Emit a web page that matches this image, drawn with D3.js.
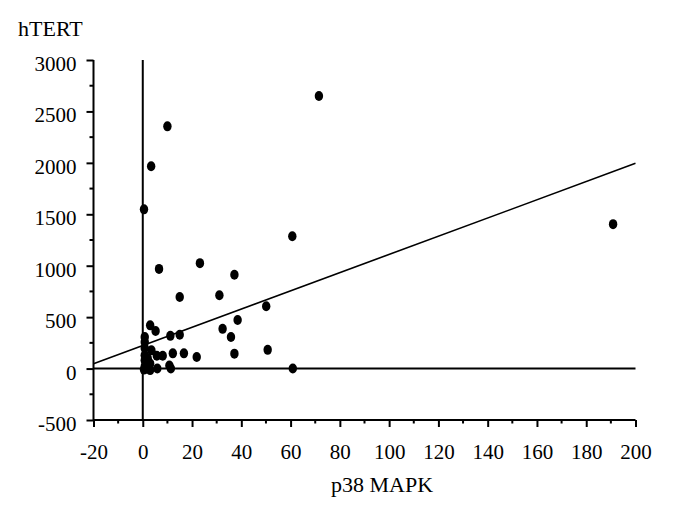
<!DOCTYPE html>
<html>
<head>
<meta charset="utf-8">
<script src="https://cdn.jsdelivr.net/npm/d3@7"></script>
<style>
  html, body { margin: 0; padding: 0; background: #fff; }
  svg text { font-family: "Liberation Serif", "Times New Roman", serif; fill: #000; }
</style>
</head>
<body>
<svg id="chart" width="674" height="505"></svg>
<script>
// ---- data ----
const p38 = [71.5, 10, 3.4, 0.5, 190.9, 60.7, 23.2, 6.6, 37.2, 15, 31.1, 50.1, 38.5, 32.4, 35.8, 21.9, 37.2, 50.7, 60.9,
             3, 5.2, 11.2, 15, 0.8, 0.8, 0.8, 0.8, 0.8, 0.8, 0.5, 3.5, 5.7, 8.1, 12.2, 16.7, 10.8, 11.4, 5.9, 3, 2, 3, 2.2];
const hTERT = [2650, 2355, 1967, 1548, 1404, 1286, 1025, 969, 912, 695, 713, 606, 472, 386, 307, 112, 145, 182, 0,
               420, 365, 318, 328, 307, 258, 200, 130, 80, 20, -10, 177, 125, 125, 148, 148, 30, 0, 0, -15, 100, 50, 10];
const xTicks = [-20, 0, 20, 40, 60, 80, 100, 120, 140, 160, 180, 200];
const yTicks = [-500, 0, 500, 1000, 1500, 2000, 2500, 3000];
const fitIntercept = 225;
const fitSlope = 8.85;
const xTitle = "p38 MAPK";
const yTitle = "hTERT";

// ---- layout ----
const svg = d3.select("#chart");
const x = d3.scaleLinear().domain([-20, 200]).range([93.5, 635.5]);
const y = d3.scaleLinear().domain([-500, 3000]).range([420, 60]);

const xMinor = d3.range(-10, 200, 20);
const yMinor = d3.range(-250, 3000, 500);
const fmt = d => String(d);

// x axis
const gx = svg.append("g").attr("transform", `translate(0,${y(-500)})`)
  .call(d3.axisBottom(x).tickValues(xTicks).tickSize(7).tickPadding(17).tickFormat(fmt));
gx.selectAll(".tick text").attr("font-size", 21).attr("font-family", "Liberation Serif");
gx.append("g").selectAll("line").data(xMinor).join("line")
  .attr("x1", d => x(d)).attr("x2", d => x(d)).attr("y1", 0).attr("y2", 3.5)
  .attr("stroke", "#000").attr("stroke-width", 2);

// y axis
const gy = svg.append("g").attr("transform", `translate(${x(-20)},0)`)
  .call(d3.axisLeft(y).tickValues(yTicks).tickSize(7).tickPadding(10).tickFormat(fmt));
gy.selectAll(".tick text").attr("font-size", 21).attr("font-family", "Liberation Serif").attr("dy", "0.5em");
gy.append("g").selectAll("line").data(yMinor).join("line")
  .attr("y1", d => y(d)).attr("y2", d => y(d)).attr("x1", 0).attr("x2", -4)
  .attr("stroke", "#000").attr("stroke-width", 2);

[gx, gy].forEach(g => {
  g.select(".domain").attr("stroke", "#000").attr("stroke-width", 2);
  g.selectAll(".tick line").attr("stroke", "#000").attr("stroke-width", 2);
});
gx.select(".domain").attr("d", `M${x(-20)},0H${x(200)}`);
gy.select(".domain").attr("d", `M0,${y(-500)}V${y(3000)}`);

// zero reference lines
svg.append("line").attr("x1", x(0)).attr("x2", x(0)).attr("y1", y(3000)).attr("y2", y(-500))
  .attr("stroke", "#000").attr("stroke-width", 2);
svg.append("line").attr("x1", x(-20)).attr("x2", x(200)).attr("y1", y(0)).attr("y2", y(0))
  .attr("stroke", "#000").attr("stroke-width", 2);

// regression line
const fitLine = d3.line().x(d => x(d)).y(d => y(fitIntercept + fitSlope * d));
svg.append("path").datum([-20, 200]).attr("d", fitLine)
  .attr("fill", "none").attr("stroke", "#000").attr("stroke-width", 1.6);

// points
const pts = p38.map((v, i) => ({ x: v, y: hTERT[i] }));
svg.append("g").selectAll("ellipse").data(pts).join("ellipse")
  .attr("cx", d => x(d.x)).attr("cy", d => y(d.y)).attr("rx", 4.2).attr("ry", 5)
  .attr("fill", "#000");

// titles
svg.append("text").attr("x", 18).attr("y", 36).attr("font-size", 22).text(yTitle);
svg.append("text").attr("x", 382).attr("y", 492).attr("text-anchor", "middle").attr("font-size", 22).text(xTitle);
</script>
</body>
</html>
